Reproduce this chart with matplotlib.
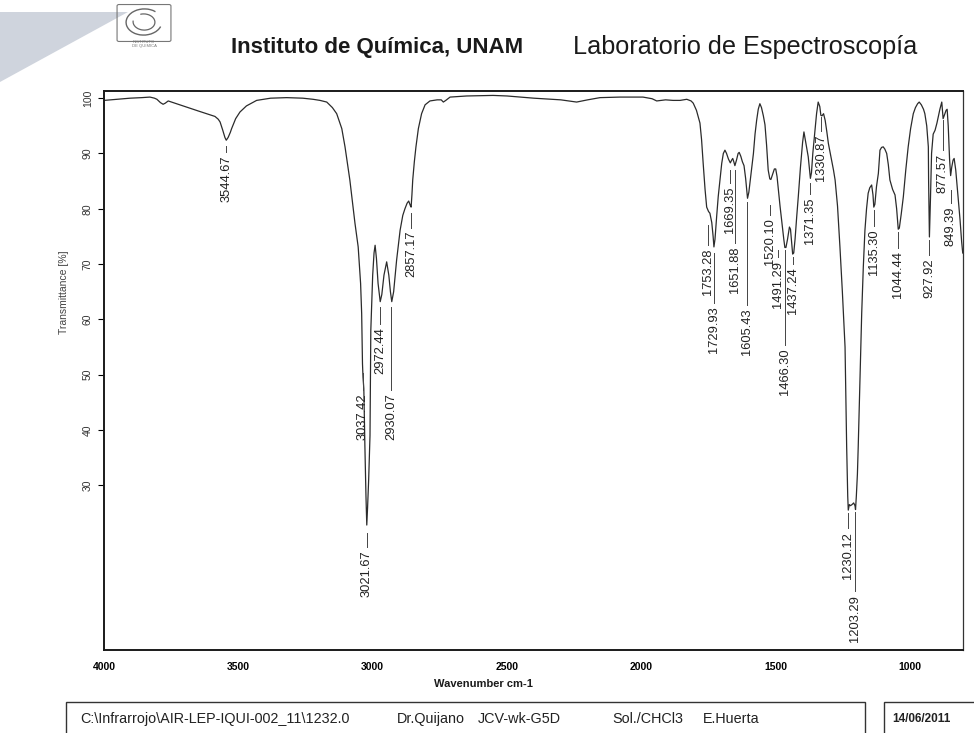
import matplotlib.pyplot as plt
from matplotlib.patches import Polygon, Rectangle, FancyBboxPatch, Arc

plt.rcParams['font.family'] = ['Liberation Sans', 'DejaVu Sans']

# IR spectrum, wavenumber (cm-1) vs transmittance (%)
wavenumber = [
    4000, 3950, 3903, 3860, 3829, 3812, 3803, 3790, 3780, 3772, 3761, 3700,
    3650, 3600, 3587, 3575, 3568, 3558, 3550, 3545, 3538, 3530, 3525, 3510,
    3494, 3470, 3432, 3380, 3320, 3260, 3222, 3196, 3171, 3150, 3134, 3115,
    3103, 3085, 3066, 3054, 3045, 3041, 3038, 3036, 3033, 3029, 3025, 3022,
    3019, 3015, 3010, 3007, 3003, 3000, 2995, 2991, 2986, 2980, 2972, 2966,
    2958, 2948, 2940, 2934, 2929, 2922, 2916, 2911, 2898, 2888, 2880, 2872,
    2866, 2860, 2857, 2854, 2851, 2845, 2839, 2830, 2818, 2805, 2787, 2760,
    2745, 2737, 2728, 2712, 2650, 2552, 2500, 2400, 2300, 2241, 2200, 2154,
    2080, 1994, 1960, 1943, 1910, 1882, 1856, 1831, 1815, 1807, 1795, 1788,
    1782, 1776, 1770, 1763, 1757, 1750, 1745, 1738, 1733, 1730, 1726, 1720,
    1714, 1707, 1701, 1695, 1689, 1683, 1676, 1669, 1664, 1660, 1656, 1652,
    1646, 1640, 1636, 1630, 1624, 1618, 1612, 1605, 1600, 1594, 1588, 1583,
    1577, 1571, 1565, 1559, 1553, 1546, 1540, 1534, 1528, 1522, 1518, 1512,
    1505, 1500, 1495, 1490, 1484, 1478, 1470, 1466, 1462, 1456, 1449, 1445,
    1440, 1437, 1433, 1428, 1422, 1416, 1408, 1400, 1395, 1390, 1385, 1379,
    1373, 1371, 1367, 1362, 1354, 1348, 1342, 1336, 1332, 1328, 1322, 1316,
    1310, 1304, 1295, 1285, 1279, 1270, 1261, 1252, 1242, 1236, 1232, 1230,
    1226, 1222, 1216, 1210, 1205, 1203, 1200, 1196, 1193, 1186, 1180, 1174,
    1168, 1162, 1156, 1150, 1143, 1138, 1135, 1131, 1125, 1118, 1112, 1106,
    1100, 1094, 1087, 1081, 1075, 1065, 1056, 1050, 1044, 1040, 1033, 1025,
    1016, 1007, 998, 988, 980, 972, 966, 958, 950, 945, 938, 932,
    931, 928, 924, 920, 914, 907, 900, 895, 889, 882, 877, 872,
    866, 862, 858, 853, 849, 845, 840, 836, 830, 823, 814, 808,
    804,
]
transmittance = [
    99.6, 99.8, 100.0, 100.1, 100.2, 100.0, 99.8, 99.2, 98.9, 99.1, 99.5, 98.5,
    97.7, 96.9, 96.7, 96.2, 95.7, 94.2, 92.9, 92.4, 92.9, 93.8, 94.5, 96.3,
    97.5, 98.6, 99.6, 100.0, 100.1, 100.0, 99.8, 99.6, 99.3, 98.3, 97.2, 94.5,
    91.2, 85.2, 77.4, 73.1, 66.5, 61.0, 52.0, 49.5, 47.5, 37.0, 28.0, 22.8,
    26.0, 31.0, 39.0, 58.0, 64.0, 68.0, 72.0, 73.4, 71.0, 66.5, 63.2, 64.5,
    68.0, 70.4, 68.0, 65.0, 63.2, 65.0, 68.0, 70.7, 76.1, 78.8, 80.0, 81.0,
    81.4, 80.6, 80.3, 82.5, 85.2, 88.5, 91.2, 94.5, 97.2, 98.8, 99.5, 99.7,
    99.7, 99.3, 99.6, 100.2, 100.4, 100.5, 100.4, 100.0, 99.7, 99.3, 99.7, 100.1,
    100.2, 100.2, 99.9, 99.5, 99.7, 99.6, 99.6, 99.8, 99.5, 99.1, 97.8, 96.6,
    95.5, 92.5, 88.2, 83.5, 80.3, 79.5, 79.2, 77.5, 75.0, 73.1, 74.5, 78.5,
    82.2, 85.5, 88.2, 90.0, 90.6, 90.0, 89.0, 88.3, 88.8, 89.1, 88.5, 87.8,
    88.8, 90.0, 90.2, 89.5, 88.5, 87.8, 85.5, 81.9, 83.0, 85.5, 88.0, 90.0,
    93.5, 96.0, 98.0, 99.0, 98.3, 96.8, 95.2, 91.5, 87.0, 85.4, 85.3, 86.2,
    87.2, 87.2, 85.8, 83.4, 80.5, 77.9, 74.5, 73.0, 73.0, 74.5, 76.7, 76.3,
    73.5, 71.8, 72.0, 74.5, 78.5, 82.2, 87.5, 92.0, 93.9, 92.5, 91.0, 89.4,
    86.5, 85.5, 86.5, 90.0, 94.2, 97.2, 99.3, 98.5, 96.9, 96.8, 97.2, 96.0,
    94.0, 91.8, 89.5, 87.0, 85.2, 80.5, 73.1, 65.0, 55.0, 37.0, 28.0, 25.5,
    26.5, 26.3, 26.5, 26.8, 26.3, 25.6, 28.0, 32.0, 36.9, 50.0, 61.1, 69.5,
    76.1, 80.0, 82.8, 83.8, 84.3, 82.5, 80.3, 80.8, 84.0, 86.4, 90.6, 91.1,
    91.2, 90.8, 90.0, 88.0, 85.2, 83.5, 82.5, 80.0, 76.3, 76.5, 79.0, 82.2,
    87.0, 91.2, 94.5, 97.2, 98.3, 99.0, 99.3, 98.8, 98.0, 97.2, 95.0, 91.2,
    85.0, 74.9, 82.0, 90.0, 93.5, 94.2, 95.5, 96.6, 98.0, 99.3, 96.3, 97.0,
    97.8, 98.0, 95.0, 89.0, 86.0, 87.5, 88.8, 89.1, 87.0, 83.0, 78.0, 74.0,
    72.0,
]

peak_wn = [
    3544.67, 3037.42, 3021.67, 2972.44, 2930.07, 2857.17, 1753.28, 1729.93,
    1669.35, 1651.88, 1605.43, 1520.10, 1491.29, 1466.30, 1437.24, 1371.35,
    1330.87, 1230.12, 1203.29, 1135.30, 1044.44, 927.92, 877.57, 849.39,
]
# tick-mark span under each peak label (% T, top and bottom)
label_span = [
    (91.3, 90.2), (50.3, 47.2), (21.3, 18.8), (62.2, 59.2), (62.2, 47.2),
    (79.2, 76.6), (77.0, 73.4), (72.0, 63.0), (87.0, 84.7), (87.0, 73.8),
    (81.2, 62.6), (80.7, 78.9), (72.5, 71.2), (72.5, 55.3), (71.2, 70.0),
    (84.6, 82.6), (96.6, 94.0), (25.0, 22.2), (25.1, 10.8), (79.7, 76.9),
    (75.8, 72.9), (74.3, 71.6), (96.0, 90.6), (83.4, 81.0),
]

W, H = 974, 733
fig = plt.figure(figsize=(W / 100, H / 100), dpi=100)


def fx(px):
    return px / W


def fy(py):
    return 1 - py / H


# folded corner of the scanned sheet
fig.add_artist(Polygon([(fx(0), fy(12)), (fx(128), fy(12)), (fx(0), fy(82))],
                       closed=True, facecolor='#cfd4dd', edgecolor='none',
                       transform=fig.transFigure))

# institute logo
fig.add_artist(FancyBboxPatch((fx(119), fy(40)), fx(50), fy(6) - fy(40),
                              boxstyle='round,pad=0.002', facecolor='none',
                              edgecolor='#777777', lw=0.8, transform=fig.transFigure))
fig.add_artist(Arc((fx(144), fy(22)), fx(36), fy(0) - fy(26), angle=20,
                   theta1=30, theta2=320, color='#666666', lw=1.0,
                   transform=fig.transFigure))
fig.add_artist(Arc((fx(144), fy(22)), fx(22), fy(0) - fy(16), angle=-30,
                   theta1=200, theta2=500, color='#666666', lw=0.9,
                   transform=fig.transFigure))
fig.text(fx(144), fy(44), 'INSTITUTO\nDE QUIMICA', fontsize=3, color='#777777',
         ha='center', va='center', linespacing=0.9)

fig.text(fx(231), fy(47), 'Instituto de Química, UNAM', fontsize=16,
         fontweight='bold', color='#1a1a1a', va='center')
fig.text(fx(573), fy(47), 'Laboratorio de Espectroscopía', fontsize=18.2,
         color='#1a1a1a', va='center')

ax = fig.add_axes([fx(104), fy(650), fx(963) - fx(104), fy(91) - fy(650)])
ax.plot(wavenumber, transmittance, color='#2b2b2b', lw=0.9)
ax.set_xlim(4000, 803)
ax.set_ylim(0.2, 101.3)

for wn, (top, bottom) in zip(peak_wn, label_span):
    ax.plot([wn, wn], [top, bottom], color='#444444', lw=0.7)
    ax.text(wn, bottom - 0.6, f'{wn:.2f}', rotation=90, ha='center', va='top',
            fontsize=9.3, color='#222222')

ax.set_yticks(range(30, 101, 10))
ax.set_xticks([4000, 3500, 3000, 2500, 2000, 1500, 1000])
ax.tick_params(axis='y', direction='out', length=4, width=0.8, pad=4,
               labelrotation=90, labelsize=7.5, labelcolor='#333333')
ax.tick_params(axis='x', length=0, pad=9, labelsize=7.5)
for lbl in ax.get_xticklabels():
    lbl.set_fontweight('bold')
for lbl in ax.get_yticklabels():
    lbl.set_verticalalignment('center')

for side in ['left', 'top', 'bottom']:
    ax.spines[side].set_linewidth(1.4)
    ax.spines[side].set_color('#1a1a1a')
ax.spines['right'].set_linewidth(0.9)
ax.spines['right'].set_color('#333333')

fig.text(fx(483), fy(684), 'Wavenumber cm-1', fontsize=8, fontweight='bold',
         ha='center', va='center', color='#1a1a1a')
fig.text(fx(64), fy(292), 'Transmittance [%]', fontsize=7.5, rotation=90,
         ha='center', va='center', color='#444444')

# acquisition info boxes
fig.add_artist(Rectangle((fx(66), fy(745)), fx(865) - fx(66), fy(702) - fy(745),
                         facecolor='none', edgecolor='#333333', lw=1.0,
                         transform=fig.transFigure))
fig.add_artist(Rectangle((fx(884), fy(745)), fx(990) - fx(884), fy(702) - fy(745),
                         facecolor='none', edgecolor='#333333', lw=1.0,
                         transform=fig.transFigure))
footer = [(80, 'C:\\Infrarrojo\\AIR-LEP-IQUI-002_11\\1232.0'), (397, 'Dr.Quijano'),
          (478, 'JCV-wk-G5D'), (612, 'Sol./CHCl3'), (703, 'E.Huerta')]
for x, s in footer:
    fig.text(fx(x), fy(719), s, fontsize=10.4, color='#222222', va='center')
fig.text(fx(892), fy(719), '14/06/2011', fontsize=8.5, fontweight='bold',
         color='#222222', va='center')

fig.savefig('out.png', dpi=100, facecolor='white')
